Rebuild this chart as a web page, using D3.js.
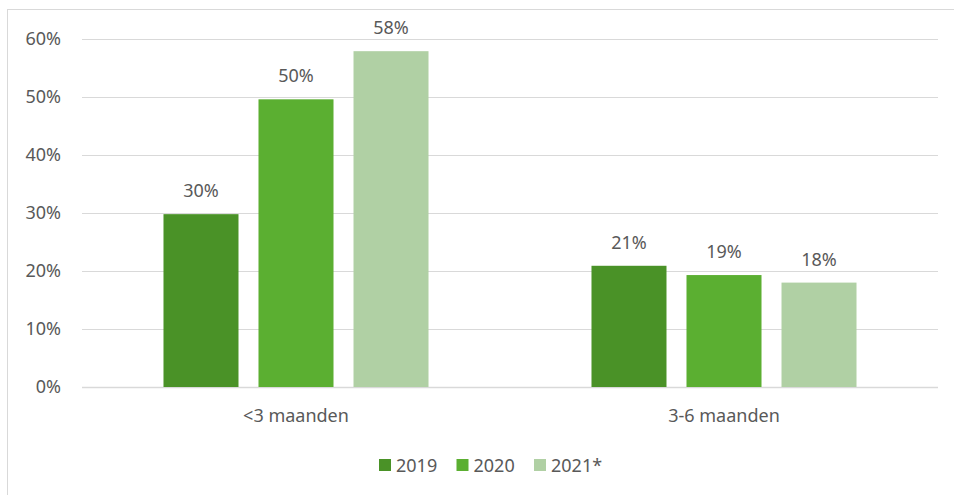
<!DOCTYPE html>
<html>
<head>
<meta charset="utf-8">
<script src="https://cdn.jsdelivr.net/npm/d3@7"></script>
<style>
  body { margin: 0; background: #fff; }
  svg text { font-family: "Noto Sans", "Open Sans", sans-serif; fill: #595959; }
</style>
</head>
<body>
<div id="chart"></div>
<script>
var categories = ["<3 maanden", "3-6 maanden"];
var series = ["2019", "2020", "2021*"];
var values2019 = [29.8, 20.9];
var values2020 = [49.6, 19.3];
var values2021 = [57.9, 18.0];
var yTicks = [0, 10, 20, 30, 40, 50, 60];
var colors = ["#4a9227", "#5baf31", "#b0d0a4"];

var width = 954, height = 495;
var margin = {top: 39, left: 82, right: 16, bottom: 108};

var svg = d3.select("#chart")
  .append("svg")
  .attr("width", width)
  .attr("height", height);

// chart border (runs off right and bottom)
svg.append("rect")
  .attr("x", 7.5).attr("y", 9.5)
  .attr("width", 960).attr("height", 500)
  .attr("fill", "none")
  .attr("stroke", "#d9d9d9");

var x0 = d3.scaleBand()
  .domain(categories)
  .range([margin.left, width - margin.right])
  .paddingInner(0.3808)
  .paddingOuter(0.1904);

var x1 = d3.scaleBand()
  .domain(series)
  .range([0, x0.bandwidth()])
  .paddingInner(0.2105);

var y = d3.scaleLinear()
  .domain([0, 60])
  .range([height - margin.bottom, margin.top]);

// gridlines
svg.append("g")
  .selectAll("line")
  .data(yTicks)
  .enter()
  .append("line")
  .attr("x1", margin.left)
  .attr("x2", width - margin.right)
  .attr("y1", function(d) { return Math.round(y(d)) + 0.5; })
  .attr("y2", function(d) { return Math.round(y(d)) + 0.5; })
  .attr("stroke", "#d9d9d9")
  .attr("stroke-width", function(d) { return d === 0 ? 1.5 : 1; });

// y tick labels
svg.append("g")
  .selectAll("text")
  .data(yTicks)
  .enter()
  .append("text")
  .attr("x", 61)
  .attr("y", function(d) { return y(d) + 6; })
  .attr("text-anchor", "end")
  .style("font-size", "18px")
  .text(function(d) { return d + "%"; });

var rows = categories.map(function(c, i) {
  return [values2019[i], values2020[i], values2021[i]].map(function(v, j) {
    return {cat: c, ser: series[j], value: v, color: colors[j]};
  });
});

var groups = svg.append("g")
  .selectAll("g")
  .data(rows)
  .enter()
  .append("g")
  .attr("transform", function(d, i) { return "translate(" + x0(categories[i]) + ",0)"; });

groups.selectAll("rect")
  .data(function(d) { return d; })
  .enter()
  .append("rect")
  .attr("x", function(d) { return x1(d.ser); })
  .attr("y", function(d) { return y(d.value); })
  .attr("width", x1.bandwidth())
  .attr("height", function(d) { return y(0) - y(d.value); })
  .attr("fill", function(d) { return d.color; });

groups.selectAll("text")
  .data(function(d) { return d; })
  .enter()
  .append("text")
  .attr("x", function(d) { return x1(d.ser) + x1.bandwidth() / 2; })
  .attr("y", function(d) { return y(d.value) - 17; })
  .attr("text-anchor", "middle")
  .style("font-size", "18px")
  .text(function(d) { return Math.round(d.value) + "%"; });

// category labels
svg.append("g")
  .selectAll("text")
  .data(categories)
  .enter()
  .append("text")
  .attr("x", function(d) { return x0(d) + x0.bandwidth() / 2; })
  .attr("y", 422)
  .attr("text-anchor", "middle")
  .style("font-size", "18px")
  .text(function(d) { return d; });

// legend
var legend = svg.append("g")
  .selectAll("g")
  .data(series)
  .enter()
  .append("g")
  .attr("transform", function(d, i) { return "translate(" + (379 + i * 77.5) + ",459)"; });

legend.append("rect")
  .attr("width", 12).attr("height", 12)
  .attr("fill", function(d, i) { return colors[i]; });

legend.append("text")
  .attr("x", 17)
  .attr("y", 12.5)
  .style("font-size", "18px")
  .text(function(d) { return d; });
</script>
</body>
</html>
